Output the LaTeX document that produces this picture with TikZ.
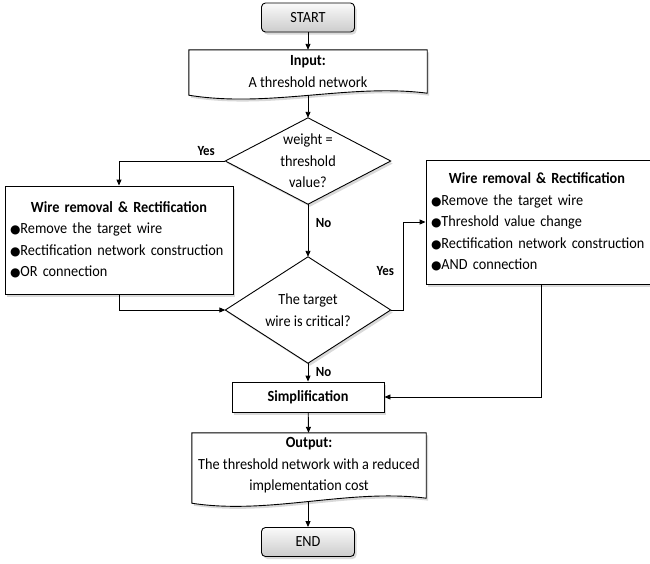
\documentclass[tikz,border=0pt]{standalone}
\usepackage{fontspec}
\setmainfont[FakeStretch=0.92]{Carlito}
\newfontfamily\symfont{DejaVu Sans}
\usetikzlibrary{arrows.meta,shadows,backgrounds}
\hyphenpenalty=10000
\newcommand{\bul}{{\symfont\fontsize{12}{12}\selectfont ●}}
\tikzset{
	shade/.style={drop shadow={opacity=.3,shadow xshift=2pt,shadow yshift=-2.5pt,fill=gray}},
	box/.style={draw,fill=white,line width=.9pt,inner sep=0pt,shade},
	outline/.style={draw,fill=white,line width=.9pt,shade},
	term/.style={draw,line width=.9pt,rounded corners=4pt,top color=gray!4,bottom color=gray!40,minimum width=93,minimum height=29,shade},
	lbl/.style={font=\bfseries\fontsize{14}{14}\selectfont},
	link/.style={line width=.9pt,-{Triangle[length=6pt,width=5pt]}}
}
\begin{document}
\begin{tikzpicture}[x=1pt,y=-1pt,font=\fontsize{15.5}{21.5}\selectfont]
		\useasboundingbox(0,0)rectangle(650,563);
		\node[term](start)at(308,17.5){START};
		\node[align=center,minimum width=238,minimum height=43,inner sep=0pt](input)at(308,71.5){\textbf{Input:}\\A threshold network};
		\node[minimum width=165,minimum height=86,align=center,inner sep=0pt](dia1)at(308,161){weight =\\threshold\\value?};
		\node[box,minimum width=228,minimum height=108,inner xsep=5pt,text width=218,align=left](wr1)at(119,240){{\centering\bfseries Wire removal \& Rectification\par}\bul Remove the target wire\\\bul Rectification network construction\\\bul OR connection};
		\node[box,minimum width=230,minimum height=124,inner xsep=5pt,text width=220,align=left](wr2)at(541,222){{\centering\bfseries\hspace*{-8pt}Wire removal \& Rectification\par}\bul Remove the target wire\\\bul Threshold value change\\\bul Rectification network construction\\\bul AND connection};
		\node[minimum width=165,minimum height=106,align=center,inner sep=0pt](dia2)at(308,310){The target\\wire is critical?};
		\node[box,minimum width=152,minimum height=30](simp)at(308,397){\textbf{Simplification}};
		\node[minimum width=234,minimum height=65,align=center,inner sep=0pt](output)at(309,465.5){\textbf{Output:}\\The threshold network with a reduced\\implementation cost};
		\node[term](end)at(308,542){END};
		\coordinate(inbot)at(308,95.5);
		\coordinate(outbot)at(308,502);
		\begin{pgfonlayer}{background}
		\draw[outline](input.north west)--(input.north east)--(input.south east)..controls+(-78,-10)and+(80,13)..([yshift=-2pt]input.south west)--cycle;
		\draw[outline](output.north west)--(output.north east)--(output.south east)..controls+(-77,-10)and+(77,12)..([yshift=-5pt]output.south west)--cycle;
		\draw[outline](dia1.north)--(dia1.east)--(dia1.south)--(dia1.west)--cycle;
		\draw[outline](dia2.north)--(dia2.east)--(dia2.south)--(dia2.west)--cycle;
		\end{pgfonlayer}
		\draw[link](start)--(input);
		\draw[link](inbot)--(dia1);
		\draw[link](dia1.west)-|(wr1)node[lbl,above=2pt,pos=.09]{Yes};
		\draw[link](dia1)--(dia2)node[lbl,right=4pt,pos=.35]{No};
		\draw[link](wr1)|-(dia2);
		\draw[link](dia2.east)--++(13,0)|-(wr2)node[lbl,left=6pt,pos=.22]{Yes};
		\draw[link](wr2)|-(simp);
		\draw[link](dia2)--(simp)node[lbl,right=4pt,midway]{No};
		\draw[link](simp)--(output);
		\draw[link](outbot)--(end);
		\end{tikzpicture}
\end{document}
